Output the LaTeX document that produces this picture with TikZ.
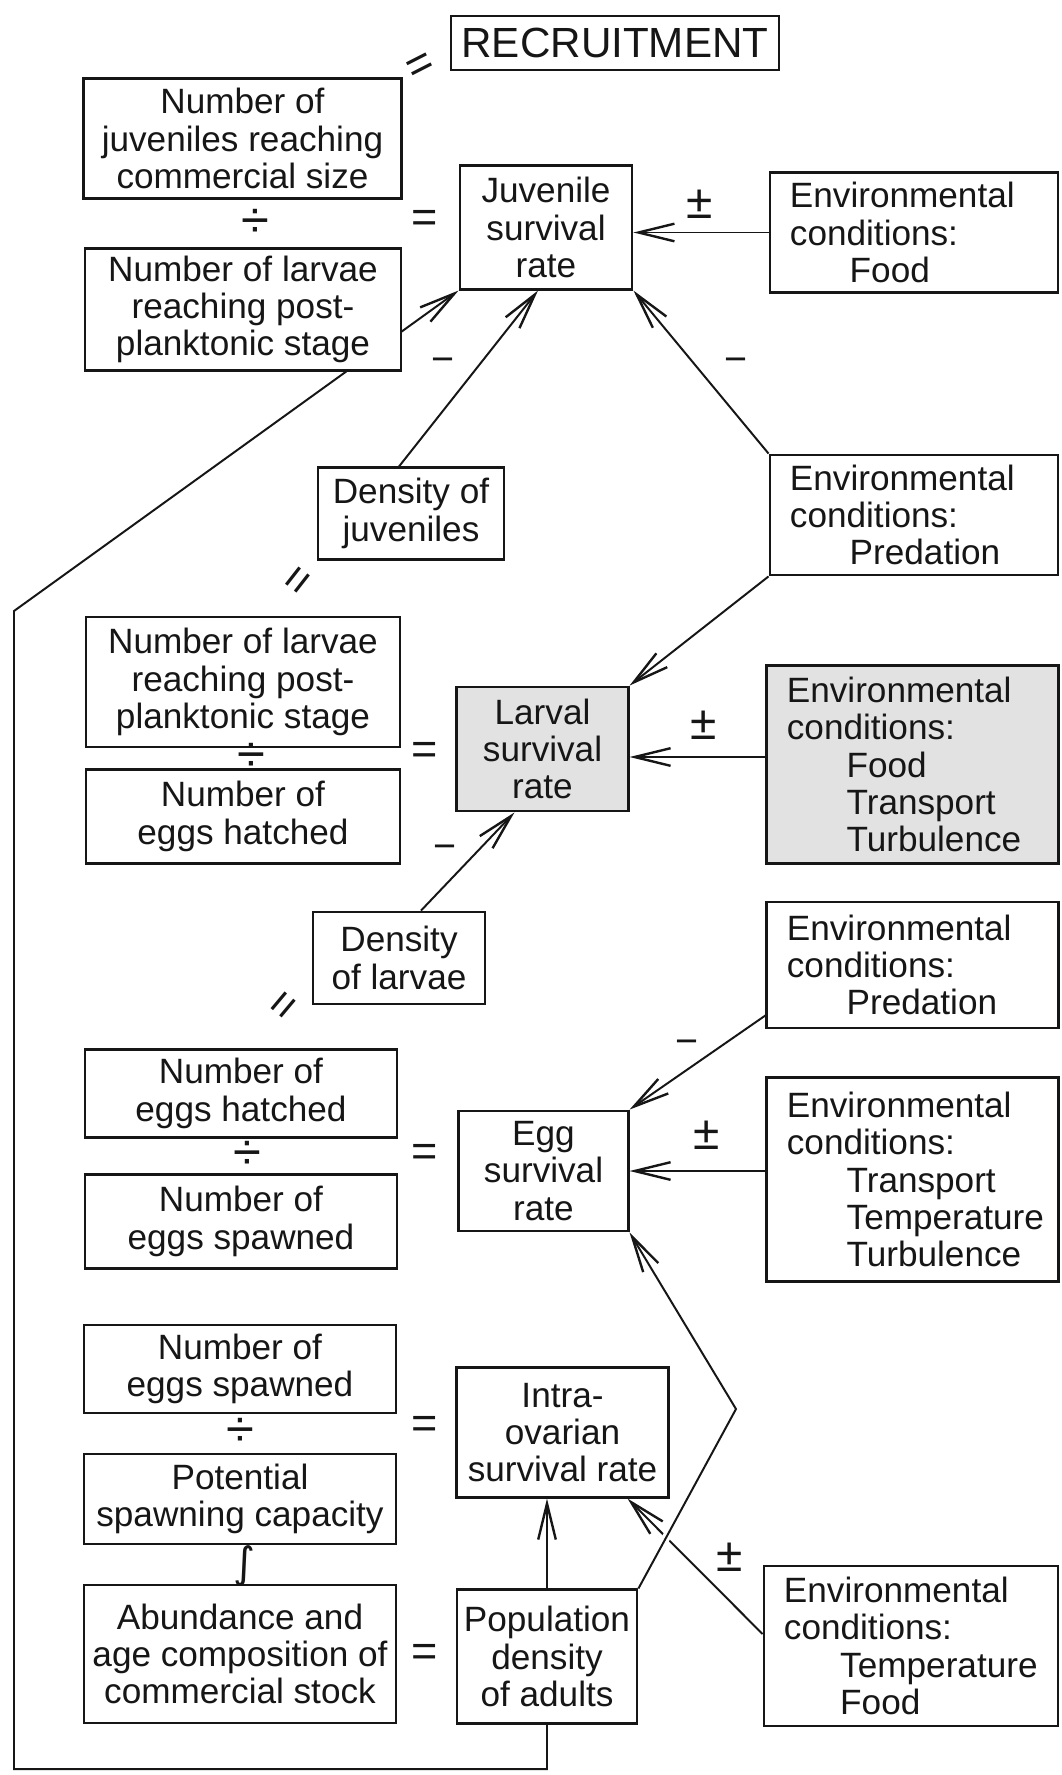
\documentclass[tikz,border=0pt]{standalone}
\usepackage{fontspec}
\setmainfont{Liberation Sans}
\newfontfamily\symfont{DejaVu Sans}
\usetikzlibrary{arrows.meta,calc,backgrounds}
\definecolor{ink}{HTML}{161616}
\definecolor{shade}{HTML}{E2E2E2}

\begin{document}
\begin{tikzpicture}[x=0.025cm,y=-0.025cm,
    box/.style={draw=ink,fill=white,line width=2pt,inner sep=3pt,align=center,text=ink,
      font=\fontsize{25}{26.5}\selectfont},
    envBox/.style={box,align=left,inner xsep=0.5cm},
    grey/.style={fill=shade},
    sym/.style={text=ink,inner sep=0pt,font=\fontsize{32}{32}\selectfont},
    arr/.style={draw=ink,line width=1.4pt,-{Straight Barb[length=9mm,width=4.4mm,line width=1.7pt]}},
    link/.style={draw=ink,line width=1.4pt}]
  \useasboundingbox (0,0) rectangle (1061,1775);

  % left column: the ratios
  \node[box,font=\fontsize{30}{32}\selectfont,minimum width=8.2cm,minimum height=1.35cm] (recr) at (615,43) {RECRUITMENT};
  \node[box,minimum width=7.93cm,minimum height=2.98cm] (nJuv) at (242.5,138.5) {Number of\\juveniles reaching\\commercial size};
  \node[box,minimum width=7.9cm,minimum height=3.03cm] (nLarvA) at (243,309.5) {Number of larvae\\reaching post-\\planktonic stage};
  \node[box,minimum width=7.85cm,minimum height=3.25cm] (nLarvB) at (243,682) {Number of larvae\\reaching post-\\planktonic stage};
  \node[box,minimum width=7.85cm,minimum height=2.33cm] (nHatchA) at (243,816.5) {Number of\\eggs hatched};
  \node[box,minimum width=7.8cm,minimum height=2.18cm] (nHatchB) at (241,1093.5) {Number of\\eggs hatched};
  \node[box,minimum width=7.8cm,minimum height=2.33cm] (nSpawnA) at (241,1221.5) {Number of\\eggs spawned};
  \node[box,minimum width=7.8cm,minimum height=2.2cm] (nSpawnB) at (240,1369) {Number of\\eggs spawned};
  \node[box,minimum width=7.8cm,minimum height=2.25cm] (potCap) at (240,1499) {Potential\\spawning capacity};
  \node[box,minimum width=7.8cm,minimum height=3.45cm] (abund) at (240,1654) {Abundance and\\age composition of\\commercial stock};

  % middle column: rates and densities
  \node[box,minimum width=4.3cm,minimum height=3.08cm] (juvRate) at (546,227.5) {Juvenile\\survival\\rate};
  \node[box,minimum width=4.65cm,minimum height=2.28cm] (denJuv) at (411,513.5) {Density of\\juveniles};
  \node[box,grey,minimum width=4.28cm,minimum height=3.1cm] (larvRate) at (542.5,749) {Larval\\survival\\rate};
  \node[box,minimum width=4.3cm,minimum height=2.3cm] (denLarv) at (399,958) {Density\\of larvae};
  \node[box,minimum width=4.23cm,minimum height=3.0cm] (eggRate) at (543.5,1171) {Egg\\survival\\rate};
  \node[box,minimum width=5.28cm,minimum height=3.23cm] (intraRate) at (562.5,1432.5) {Intra-\\ovarian\\survival rate};
  \node[box,minimum width=4.5cm,minimum height=3.33cm] (popDens) at (547,1656.5) {Population\\density\\of adults};

  % right column: environment
  \node[envBox,text width=6.2cm,minimum height=2.98cm] (envFood) at (914,232.5) {Environmental\\conditions:\\\hspace*{1.7em}Food};
  \node[envBox,text width=6.2cm,minimum height=3.0cm] (envPredA) at (914,515) {Environmental\\conditions:\\\hspace*{1.7em}Predation};
  \node[envBox,grey,text width=6.28cm,minimum height=4.93cm] (envFFT) at (912.5,764.5) {Environmental\\conditions:\\\hspace*{1.7em}Food\\\hspace*{1.7em}Transport\\\hspace*{1.7em}Turbulence};
  \node[envBox,text width=6.28cm,minimum height=3.15cm] (envPredB) at (912.5,965) {Environmental\\conditions:\\\hspace*{1.7em}Predation};
  \node[envBox,text width=6.28cm,minimum height=5.08cm] (envTTT) at (912.5,1179.5) {Environmental\\conditions:\\\hspace*{1.7em}Transport\\\hspace*{1.7em}\mbox{Temperature}\\\hspace*{1.7em}Turbulence};
  \node[envBox,text width=6.35cm,minimum height=4.0cm] (envTF) at (911,1646) {Environmental\\conditions:\\\hspace*{1.6em}\mbox{Temperature}\\\hspace*{1.6em}Food};

  % operators
  \foreach \i/\y in {a/221,b/753,c/1155,d/1427,e/1655}
    \node[sym] (eq\i) at (425,\y) {=};
  \foreach \i/\x/\y in {a/255/223,b/251/757,c/247/1155,d/240/1432}
    \node[sym,font=\fontsize{36}{36}\selectfont] (div\i) at (\x,\y) {÷};
  \node[sym,font=\symfont\fontsize{30}{30}\selectfont] (intg) at (244,1566) {∫};
  \foreach \i/\x/\y in {a/700/204,b/704/725,c/707/1135,d/730/1557}
    \node[sym,font=\fontsize{34}{34}\selectfont] (pm\i) at (\x,\y) {±};
  \foreach \i/\x/\y in {a/443/365,b/736/365,c/445/852,d/687/1047}
    \node[sym,font=\fontsize{28}{28}\selectfont] (neg\i) at (\x,\y) {−};
  \foreach \i/\x/\y/\r in {a/421/68/27,b/301/582/52,c/286/1007/50}
    \node[sym,rotate=\r] (eqs\i) at (\x,\y) {=};

  % feedback from adults back to juvenile survival
  \coordinate (fbLow) at (14,1769);
  \coordinate (fbHigh) at (14,611);
  \coordinate (bendEgg) at (736,1409);
  \begin{scope}[on background layer]
    \draw[arr] (popDens.south) -- (popDens.south |- fbLow) -- (fbLow) -- (fbHigh) -- (juvRate.south west);
  \end{scope}

  % influences
  \draw[arr] (envFood.west) -- (envFood.west -| juvRate.east);
  \draw[arr] ([xshift=-0.3cm]denJuv.north) -- ([xshift=-0.2cm]juvRate.south);
  \draw[arr] (envPredA.north west) -- (juvRate.south east);
  \draw[arr] (envPredA.south west) -- (larvRate.north east);
  \draw[arr] ([yshift=-0.2cm]envFFT.west |- larvRate.east) -- ([yshift=-0.2cm]larvRate.east);
  \draw[arr] ([xshift=0.55cm]denLarv.north) -- ([xshift=-0.7cm]larvRate.south);
  \draw[arr] ([yshift=0.35cm]envPredB.south west) -- (eggRate.north east);
  \draw[arr] (envTTT.west |- eggRate.east) -- (eggRate.east);
  \draw[arr] (popDens.north) -- (popDens.north |- intraRate.south);
  \draw[arr] ([yshift=0.3cm]envTF.west) -- ([xshift=-1.05cm]intraRate.south east);
  \draw[arr,preaction={draw=white,line width=6pt,-}] (popDens.north east) -- (bendEgg) -- (eggRate.south east);
\end{tikzpicture}
\end{document}
